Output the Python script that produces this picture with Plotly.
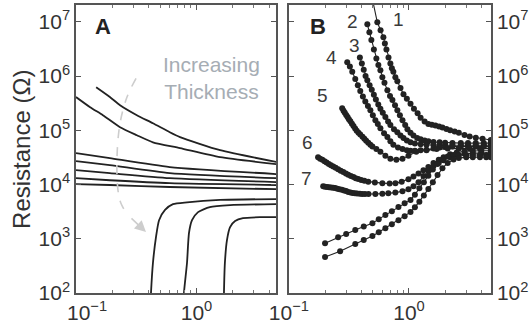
import math
import plotly.graph_objects as go

# ---------------- Panel A data (thickness series, lines) ----------------
a_top1_x = [0.147, 0.191, 0.232, 0.32, 0.435, 0.60, 0.73, 1.57, 4.6]
a_top1_y = [6.2e5, 4.1e5, 2.9e5, 1.9e5, 1.35e5, 9.2e4, 7.5e4, 4.3e4, 2.6e4]
a_top2_x = [0.1, 0.131, 0.167, 0.232, 0.32, 0.435, 0.73, 1.57, 4.6]
a_top2_y = [4.1e5, 2.66e5, 1.9e5, 1.14e5, 8.1e4, 6.0e4, 4.7e4, 3.2e4, 2.38e4]
a_mid_x = [0.1, 0.191, 0.60, 4.6]
a_mid_y = [
    [3.8e4, 3.06e4, 2.1e4, 1.56e4],
    [2.7e4, 2.28e4, 1.62e4, 1.31e4],
    [1.84e4, 1.62e4, 1.31e4, 1.11e4],
    [1.31e4, 1.2e4, 1.06e4, 9.8e3],
    [1.02e4, 9.8e3, 9.0e3, 8.2e3],
]
a_rise1_x = [0.415, 0.419, 0.435, 0.461, 0.489, 0.548, 0.638, 0.834, 1.57, 4.6]
a_rise1_y = [60, 100, 357, 1.07e3, 2.2e3, 3.4e3, 4.35e3, 4.7e3, 5.2e3, 5.4e3]
a_rise2_x = [0.784, 0.787, 0.834, 0.866, 0.918, 1.03, 1.29, 1.9, 4.6]
a_rise2_y = [60, 100, 357, 1.27e3, 2.2e3, 3.1e3, 3.84e3, 4.17e3, 4.35e3]
a_rise3_x = [1.685, 1.69, 1.72, 1.79, 1.90, 2.09, 2.43, 3.37, 4.6]
a_rise3_y = [60, 100, 357, 946, 1.64e3, 2.12e3, 2.4e3, 2.5e3, 2.5e3]

arrow_x = [0.315, 0.265, 0.232, 0.219, 0.223, 0.236, 0.265]
arrow_y = [9.1e5, 4.1e5, 1.35e5, 3.2e4, 7.9e3, 4.5e3, 2.85e3]
arrow_tip = (0.381, 1.33e3)

# ---------------- Panel B data (numbered series, lines + markers) ----------------
b1_x = [0.50, 0.545, 0.58, 0.612, 0.63, 0.649, 0.675, 0.70, 0.72, 0.741, 0.77, 0.80, 0.85, 0.90, 0.96,
        1.03, 1.10, 1.18, 1.25, 1.35, 1.45, 1.55, 1.66, 1.78, 1.90, 2.05, 2.2, 2.4, 2.6, 2.9, 3.2, 3.6, 4.1, 4.8]
b1_y = [2.4e7, 9.8e6, 7.0e6, 5.2e6, 4.0e6, 3.1e6, 2.2e6, 1.7e6, 1.4e6, 1.2e6, 9.5e5, 8.0e5, 6.0e5, 4.6e5, 3.8e5,
        3.1e5, 2.5e5, 2.07e5, 1.7e5, 1.45e5, 1.3e5, 1.26e5, 1.22e5, 1.17e5, 1.12e5, 1.06e5, 1.0e5, 9.5e4, 9.0e4,
        8.2e4, 7.7e4, 7.3e4, 7.0e4, 6.6e4]
b2_x = [0.45, 0.468, 0.486, 0.51, 0.535, 0.556, 0.578, 0.60, 0.625, 0.661, 0.695, 0.728, 0.765, 0.80, 0.84,
        0.883, 0.93, 0.971, 1.03, 1.09, 1.17, 1.25, 1.35, 1.45, 1.6, 1.8, 2.0, 2.3, 2.7, 3.1, 3.6, 4.2, 4.8]
b2_y = [9.0e6, 6.4e6, 4.6e6, 3.1e6, 2.1e6, 1.6e6, 1.28e6, 9.5e5, 7.5e5, 5.5e5, 4.3e5, 3.6e5, 2.9e5, 2.35e5,
        1.9e5, 1.53e5, 1.25e5, 1.05e5, 9.0e4, 8.0e4, 7.2e4, 6.8e4, 6.5e4, 6.3e4, 6.1e4, 6.0e4, 5.9e4, 5.8e4,
        5.8e4, 5.8e4, 5.8e4, 5.8e4, 5.8e4]
b3_x = [0.39, 0.405, 0.42, 0.435, 0.45, 0.47, 0.49, 0.51, 0.53, 0.555, 0.578, 0.605, 0.636, 0.67, 0.70, 0.75,
        0.80, 0.85, 0.90, 0.96, 1.03, 1.12, 1.25, 1.4, 1.6, 1.8, 2.0, 2.3, 2.7, 3.1, 3.6, 4.2, 4.8]
b3_y = [2.2e6, 1.7e6, 1.3e6, 1.0e6, 8.4e5, 6.8e5, 5.6e5, 4.5e5, 3.7e5, 3.0e5, 2.5e5, 2.1e5, 1.75e5, 1.45e5,
        1.25e5, 1.05e5, 9.2e4, 8.0e4, 7.2e4, 6.5e4, 6.0e4, 5.7e4, 5.5e4, 5.4e4, 5.3e4, 5.3e4, 5.3e4, 5.3e4,
        5.3e4, 5.3e4, 5.3e4, 5.3e4, 5.3e4]
b4_x = [0.306, 0.322, 0.337, 0.357, 0.375, 0.393, 0.413, 0.433, 0.455, 0.477, 0.50, 0.525, 0.55, 0.578, 0.62,
        0.661, 0.70, 0.741, 0.81, 0.883, 0.96, 1.03, 1.12, 1.25, 1.4, 1.6, 1.8, 2.0, 2.3, 2.7, 3.1, 3.6, 4.2, 4.8]
b4_y = [1.8e6, 1.5e6, 1.2e6, 8.8e5, 6.8e5, 5.3e5, 4.2e5, 3.4e5, 2.8e5, 2.35e5, 1.9e5, 1.53e5, 1.3e5, 1.09e5,
        8.8e4, 7.5e4, 6.3e4, 5.4e4, 4.8e4, 4.5e4, 4.3e4, 4.2e4, 4.2e4, 4.3e4, 4.4e4, 4.6e4, 4.8e4, 4.9e4,
        5.0e4, 5.0e4, 5.0e4, 5.0e4, 5.0e4, 5.0e4]
b5_x = [0.278, 0.285, 0.292, 0.30, 0.308, 0.316, 0.325, 0.335, 0.345, 0.356, 0.367, 0.38, 0.393, 0.41, 0.425,
        0.44, 0.458, 0.477, 0.496, 0.535, 0.578, 0.636, 0.70, 0.785, 0.883, 0.99, 1.15, 1.4, 1.7, 2.1, 2.6,
        3.2, 3.9, 4.8]
b5_y = [2.55e5, 2.3e5, 2.1e5, 1.92e5, 1.76e5, 1.6e5, 1.46e5, 1.32e5, 1.2e5, 1.08e5, 9.8e4, 9.0e4, 8.4e4,
        7.6e4, 7.0e4, 6.4e4, 5.9e4, 5.4e4, 5.0e4, 4.5e4, 4.0e4, 3.4e4, 3.0e4, 2.85e4, 3.0e4, 3.4e4, 4.0e4,
        4.3e4, 4.5e4, 4.6e4, 4.6e4, 4.6e4, 4.6e4, 4.6e4]
b6_x = [0.175, 0.182, 0.19, 0.198, 0.206, 0.215, 0.224, 0.234, 0.245, 0.257, 0.27, 0.284, 0.298, 0.312,
        0.328, 0.345, 0.36, 0.378, 0.40, 0.425, 0.458, 0.52, 0.60, 0.69, 0.771, 0.87, 0.99, 1.09, 1.2, 1.32,
        1.45, 1.6, 1.77, 1.94, 2.2, 2.5, 2.9, 3.4, 4.0, 4.8]
b6_y = [3.2e4, 3.0e4, 2.85e4, 2.7e4, 2.55e4, 2.4e4, 2.27e4, 2.15e4, 2.03e4, 1.92e4, 1.8e4, 1.7e4, 1.6e4,
        1.52e4, 1.44e4, 1.37e4, 1.31e4, 1.26e4, 1.21e4, 1.17e4, 1.13e4, 1.09e4, 1.06e4, 1.05e4, 1.06e4,
        1.12e4, 1.25e4, 1.4e4, 1.6e4, 1.84e4, 2.1e4, 2.5e4, 2.85e4, 3.2e4, 3.6e4, 3.9e4, 4.1e4, 4.2e4,
        4.2e4, 4.2e4]
b7_x = [0.193, 0.2, 0.208, 0.216, 0.225, 0.234, 0.243, 0.253, 0.264, 0.276, 0.288, 0.3, 0.312, 0.326, 0.34,
        0.355, 0.37, 0.39, 0.408, 0.43, 0.46, 0.525, 0.6, 0.673, 0.77, 0.883, 0.99, 1.09, 1.2, 1.32, 1.45,
        1.6, 1.77, 1.94, 2.2, 2.5, 2.9, 3.4, 4.0, 4.8]
b7_y = [9.3e3, 9.1e3, 9.0e3, 8.9e3, 8.8e3, 8.7e3, 8.6e3, 8.4e3, 8.2e3, 8.0e3, 7.8e3, 7.6e3, 7.3e3, 7.1e3,
        7.0e3, 6.9e3, 6.8e3, 6.75e3, 6.7e3, 6.7e3, 6.7e3, 6.7e3, 6.75e3, 6.9e3, 7.1e3, 7.5e3, 8.2e3, 9.3e3,
        1.1e4, 1.43e4, 1.8e4, 2.2e4, 2.5e4, 2.8e4, 3.2e4, 3.5e4, 3.7e4, 3.8e4, 3.8e4, 3.8e4]
b8_x = [0.2, 0.257, 0.3, 0.357, 0.42, 0.496, 0.56, 0.636, 0.72, 0.817, 0.92, 1.03, 1.12, 1.22, 1.33, 1.45,
        1.58, 1.73, 1.9, 2.1, 2.35, 2.6, 3.0, 3.4, 3.9, 4.4, 4.8]
b8_y = [8.3e2, 1.07e3, 1.22e3, 1.45e3, 1.68e3, 1.94e3, 2.3e3, 2.73e3, 3.2e3, 3.84e3, 4.5e3, 5.2e3, 6.5e3,
        8.5e3, 1.1e4, 1.45e4, 1.9e4, 2.4e4, 2.9e4, 3.3e4, 3.5e4, 3.5e4, 3.5e4, 3.5e4, 3.5e4, 3.5e4, 3.5e4]
b9_x = [0.2, 0.267, 0.357, 0.42, 0.496, 0.56, 0.636, 0.72, 0.817, 0.92, 1.03, 1.12, 1.22, 1.33, 1.45, 1.58,
        1.73, 1.9, 2.1, 2.35, 2.6, 3.0, 3.4, 3.9, 4.4, 4.8]
b9_y = [4.6e2, 5.9e2, 8.0e2, 9.5e2, 1.12e3, 1.32e3, 1.57e3, 1.85e3, 2.2e3, 2.6e3, 3.1e3, 3.8e3, 4.8e3,
        6.3e3, 8.3e3, 1.1e4, 1.5e4, 2.0e4, 2.5e4, 2.9e4, 3.1e4, 3.2e4, 3.2e4, 3.2e4, 3.2e4, 3.2e4]

b_series = [(b1_x, b1_y), (b2_x, b2_y), (b3_x, b3_y), (b4_x, b4_y), (b5_x, b5_y),
            (b6_x, b6_y), (b7_x, b7_y), (b8_x, b8_y), (b9_x, b9_y)]
b_labels = ["1", "2", "3", "4", "5", "6", "7"]

x_tickvals_a = [1]
x_ticktext_a = ["10<sup>0</sup>"]
x_first_label_a = "10<sup>\u22121</sup>"
x_tickvals_b = [0.1, 1]
x_ticktext_b = ["10<sup>\u22121</sup>", "10<sup>0</sup>"]
x_minor_vals = [0.2, 0.3, 0.4, 0.5, 0.6, 0.7, 0.8, 0.9, 2, 3, 4]
y_tickvals = [1e2, 1e3, 1e4, 1e5, 1e6, 1e7]
y_ticktext = ["10<sup>2</sup>", "10<sup>3</sup>", "10<sup>4</sup>", "10<sup>5</sup>",
              "10<sup>6</sup>", "10<sup>7</sup>"]

y_title = "Resistance (Ω)"
note_text = "Increasing<br>Thickness"

# ---------------- Figure ----------------
FONT = "Liberation Sans"
LINE = "#222222"
fig = go.Figure()

a_lines = [(a_top1_x, a_top1_y), (a_top2_x, a_top2_y)] + [(a_mid_x, yy) for yy in a_mid_y] + \
          [(a_rise1_x, a_rise1_y), (a_rise2_x, a_rise2_y), (a_rise3_x, a_rise3_y)]
for xs, ys in a_lines:
    fig.add_trace(go.Scatter(x=xs, y=ys, mode="lines", xaxis="x", yaxis="y",
                             line=dict(color=LINE, width=1.8, shape="spline", smoothing=0.6),
                             hoverinfo="skip"))

fig.add_trace(go.Scatter(x=arrow_x, y=arrow_y, mode="lines", xaxis="x", yaxis="y",
                         line=dict(color="#cdcdcd", width=1.6, dash="dash", shape="spline"),
                         hoverinfo="skip"))

for xs, ys in b_series:
    fig.add_trace(go.Scatter(x=xs, y=ys, mode="lines+markers", xaxis="x2", yaxis="y2",
                             line=dict(color=LINE, width=1.1),
                             marker=dict(color=LINE, size=6),
                             hoverinfo="skip"))

axis_common = dict(type="log", showgrid=False, zeroline=False, showline=True, automargin=False,
                   linecolor="#555555", linewidth=1.5, mirror="allticks",
                   ticks="inside", ticklen=5, tickwidth=1, tickcolor="#555555",
                   tickfont=dict(family=FONT, size=21, color="#333333"))
minor_x = dict(ticks="inside", ticklen=3, tickwidth=1, tickcolor="#777777", showgrid=False,
               tickmode="array", tickvals=x_minor_vals)

fig.update_layout(
    width=532, height=324,
    margin=dict(l=76, r=41, t=5, b=31),
    paper_bgcolor="white", plot_bgcolor="white",
    showlegend=False,
    font=dict(family=FONT, color="#333333"),
    xaxis=dict(domain=[0, 0.482], range=[-1, 0.66], anchor="y", minor=minor_x,
               tickmode="array", tickvals=x_tickvals_a, ticktext=x_ticktext_a,
               ticklabelstandoff=0, **axis_common),
    yaxis=dict(domain=[0, 1], range=[2, 7.31], anchor="x",
               tickmode="array", tickvals=y_tickvals, ticktext=y_ticktext, **axis_common),
    xaxis2=dict(domain=[0.513, 1], range=[-1, 0.683], anchor="y2", minor=minor_x,
                tickmode="array", tickvals=x_tickvals_b, ticktext=x_ticktext_b,
                ticklabelstandoff=0, **axis_common),
    yaxis2=dict(domain=[0, 1], range=[2, 7.31], anchor="x2", side="right",
                tickmode="array", tickvals=y_tickvals, ticktext=y_ticktext,
                ticklabelstandoff=0, **axis_common),
)

ann = []
ann.append(dict(text=x_first_label_a, xref="x domain", yref="paper", x=0.055, y=-0.062,
                showarrow=False, font=dict(family=FONT, size=21, color="#333333"),
                xanchor="center", yanchor="middle"))
ann.append(dict(text="<b>A</b>", xref="x domain", yref="y domain", x=0.135, y=0.924,
                showarrow=False, font=dict(family=FONT, size=22, color="#222222"),
                xanchor="center", yanchor="middle"))
ann.append(dict(text="<b>B</b>", xref="x2 domain", yref="y2 domain", x=0.144, y=0.924,
                showarrow=False, font=dict(family=FONT, size=22, color="#222222"),
                xanchor="center", yanchor="middle"))
ann.append(dict(text=note_text, xref="x domain", yref="y domain", x=0.675, y=0.745,
                showarrow=False, font=dict(family=FONT, size=21, color="#a6adb4"),
                xanchor="center", yanchor="middle", align="center"))
ann.append(dict(text=y_title, xref="paper", yref="paper", x=-0.13, y=0.497, textangle=-90,
                showarrow=False, font=dict(family=FONT, size=24, color="#333333"),
                xanchor="center", yanchor="middle"))
label_pos = [(0.54, 0.948), (0.317, 0.941), (0.327, 0.861), (0.213, 0.819),
             (0.168, 0.6875), (0.094, 0.524), (0.089, 0.399)]
for t, (px, py) in zip(b_labels, label_pos):
    ann.append(dict(text=t, xref="x2 domain", yref="y2 domain", x=px, y=py, showarrow=False,
                    font=dict(family=FONT, size=19, color="#3a3a3a"),
                    xanchor="center", yanchor="middle"))
ann.append(dict(text="", x=math.log10(arrow_tip[0]), y=math.log10(arrow_tip[1]), xref="x", yref="y",
                showarrow=True, ax=-16, ay=-15, arrowhead=2, arrowsize=1.4, arrowwidth=1.6,
                arrowcolor="#cdcdcd"))
fig.update_layout(annotations=ann)

fig.write_html("out.html")
